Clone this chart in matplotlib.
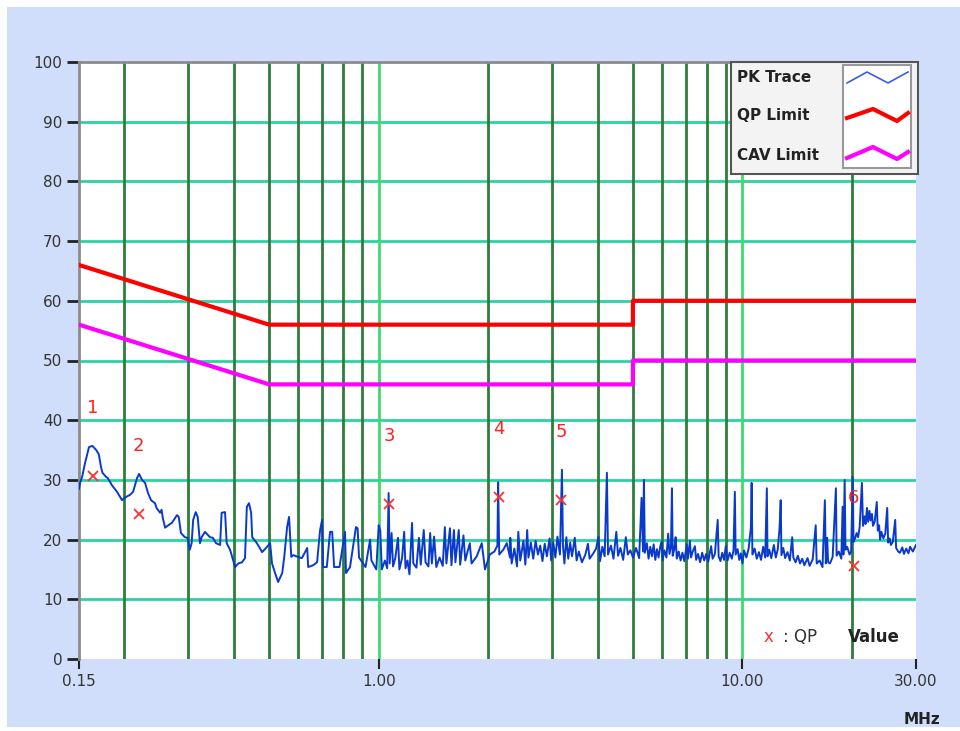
import matplotlib.pyplot as plt
from matplotlib.patches import Rectangle
from matplotlib.lines import Line2D

plt.rcParams['font.family'] = ['DejaVu Sans']

# limit lines (MHz, dBuV)
limit_freq = [0.15, 0.5, 5.0, 5.0, 30.0]
qp_limit = [66, 56, 56, 60, 60]
cav_limit = [56, 46, 46, 50, 50]

# peak trace, low / mid / high bands
pk_low = [
    (0.150, 28.5), (0.151, 29.5), (0.153, 30.5), (0.1558, 32.8), (0.1598, 35.5),
    (0.1632, 35.7), (0.1673, 35.0), (0.170, 34.3), (0.1724, 32.2), (0.174, 31.2),
    (0.178, 30.5), (0.180, 30.3), (0.1848, 29.1), (0.1908, 28.0), (0.1970, 26.6),
    (0.200, 27.0), (0.2072, 27.5), (0.2112, 28.0), (0.2166, 30.3), (0.2194, 31.0),
    (0.2236, 30.0), (0.2279, 29.5), (0.2322, 27.8), (0.2366, 26.6), (0.2427, 26.1),
    (0.245, 25.3), (0.2506, 24.5), (0.253, 25.0), (0.255, 23.6), (0.2587, 22.0),
    (0.264, 22.4), (0.270, 22.8), (0.2754, 23.6), (0.279, 24.1), (0.282, 23.8),
    (0.286, 21.1), (0.2931, 20.4), (0.298, 20.3), (0.3025, 18.3), (0.306, 19.4),
    (0.309, 23.3), (0.314, 24.6), (0.318, 23.8), (0.3226, 19.4), (0.326, 20.4),
    (0.333, 21.3), (0.3437, 20.4), (0.350, 20.3), (0.357, 19.4), (0.3664, 19.1),
    (0.370, 24.5), (0.3781, 24.6), (0.382, 19.4), (0.3903, 18.3), (0.403, 15.4),
    (0.411, 16.0), (0.421, 16.2), (0.429, 16.9), (0.434, 25.5), (0.440, 26.1),
    (0.446, 24.5), (0.449, 20.4), (0.460, 19.6), (0.469, 18.8), (0.478, 17.9),
    (0.490, 18.6), (0.503, 19.4), (0.509, 16.0), (0.519, 14.4), (0.529, 12.9),
    (0.543, 14.4), (0.550, 17.1), (0.560, 22.1), (0.567, 23.8), (0.575, 17.1),
    (0.582, 17.4), (0.600, 17.1), (0.615, 16.9), (0.636, 18.6), (0.640, 15.4),
    (0.660, 15.7), (0.677, 16.2), (0.690, 21.6), (0.699, 23.3), (0.703, 15.4),
    (0.720, 15.4), (0.735, 21.3), (0.745, 21.3), (0.754, 15.4), (0.780, 15.4),
    (0.808, 21.3), (0.813, 14.4), (0.834, 15.4), (0.866, 22.1), (0.875, 21.9),
    (0.883, 17.0), (0.920, 15.4), (0.947, 20.0), (0.955, 16.5), (0.985, 15.0),
]
pk_mid = [
    (1.00, 22.4), (1.01, 21.5), (1.02, 15.0), (1.04, 16.5), (1.055, 15.2),
    (1.065, 27.8), (1.072, 16.0), (1.085, 21.1), (1.095, 15.5), (1.11, 16.8),
    (1.13, 20.3), (1.14, 15.0), (1.16, 17.0), (1.175, 21.3), (1.185, 15.2),
    (1.20, 16.5), (1.215, 14.2), (1.235, 22.8), (1.245, 16.0), (1.27, 15.3),
    (1.29, 20.3), (1.305, 15.8), (1.33, 21.6), (1.345, 16.2), (1.37, 15.5),
    (1.385, 21.1), (1.40, 16.0), (1.42, 20.5), (1.44, 15.4), (1.47, 17.0),
    (1.50, 15.6), (1.52, 22.1), (1.535, 16.0), (1.57, 21.9), (1.585, 15.7),
    (1.61, 21.6), (1.625, 16.2), (1.66, 21.6), (1.675, 15.8), (1.71, 20.7),
    (1.73, 16.5), (1.78, 19.4), (1.80, 16.0), (1.86, 17.2), (1.92, 19.4),
    (1.96, 15.0), (2.02, 17.5), (2.08, 18.0), (2.12, 19.0), (2.13, 29.6),
    (2.145, 17.5), (2.20, 18.3), (2.25, 19.4), (2.296, 17.0), (2.30, 20.3),
    (2.32, 16.0), (2.36, 18.5), (2.40, 15.5), (2.42, 21.3), (2.45, 16.5),
    (2.50, 19.8), (2.53, 15.8), (2.56, 21.6), (2.58, 17.0), (2.62, 19.5),
    (2.66, 16.8), (2.70, 19.8), (2.74, 17.5), (2.78, 19.0), (2.82, 16.4),
    (2.86, 19.3), (2.90, 17.2), (2.95, 20.2), (2.98, 16.5), (3.02, 19.5),
    (3.06, 17.0), (3.10, 20.5), (3.15, 17.5), (3.19, 31.7), (3.21, 19.0),
    (3.24, 16.0), (3.28, 20.4), (3.32, 16.8), (3.36, 19.5), (3.40, 17.2),
    (3.46, 20.3), (3.50, 16.5), (3.55, 18.0), (3.62, 16.2), (3.70, 17.5),
    (3.76, 19.3), (3.80, 16.8), (3.90, 17.8), (3.96, 18.5), (4.02, 20.5),
    (4.06, 16.4), (4.12, 18.8), (4.18, 17.2), (4.24, 31.2), (4.27, 17.5),
    (4.35, 19.0), (4.42, 16.8), (4.50, 21.3), (4.55, 17.3), (4.62, 18.6),
    (4.70, 16.6), (4.78, 20.4), (4.84, 17.5), (4.92, 18.2), (5.00, 17.0),
]
pk_high = [
    (5.10, 18.6), (5.20, 16.9), (5.28, 27.0), (5.33, 18.0), (5.36, 30.0),
    (5.39, 17.8), (5.46, 19.4), (5.52, 16.8), (5.58, 18.8), (5.64, 17.2),
    (5.70, 19.2), (5.76, 16.6), (5.82, 18.4), (5.88, 17.0), (5.95, 19.0),
    (6.00, 19.6), (6.03, 16.5), (6.10, 18.2), (6.18, 17.0), (6.25, 21.0),
    (6.30, 17.6), (6.36, 18.8), (6.40, 28.6), (6.43, 17.3), (6.50, 18.5),
    (6.55, 20.4), (6.60, 16.8), (6.68, 18.0), (6.76, 16.5), (6.84, 17.8),
    (6.92, 16.4), (7.03, 19.2), (7.08, 16.8), (7.17, 19.8), (7.22, 17.0),
    (7.30, 18.0), (7.40, 18.9), (7.46, 16.6), (7.55, 17.6), (7.65, 16.2),
    (7.75, 17.8), (7.85, 16.5), (7.95, 17.6), (8.05, 16.3), (8.20, 18.9),
    (8.28, 16.8), (8.40, 17.6), (8.55, 23.3), (8.60, 17.2), (8.70, 16.4),
    (8.80, 17.8), (8.90, 16.6), (9.00, 18.9), (9.10, 16.5), (9.22, 17.8),
    (9.35, 16.8), (9.45, 18.2), (9.53, 28.0), (9.58, 17.5), (9.70, 18.4),
    (9.80, 16.6), (9.90, 17.7), (10.00, 16.0), (10.10, 18.2), (10.25, 17.0),
    (10.40, 18.5), (10.55, 22.1), (10.60, 29.5), (10.65, 17.5), (10.80, 18.5),
    (10.95, 16.8), (11.10, 17.9), (11.25, 16.6), (11.40, 18.8), (11.55, 17.0),
    (11.67, 28.6), (11.72, 17.2), (11.85, 18.3), (12.00, 16.9), (12.20, 19.1),
    (12.35, 17.0), (12.50, 18.3), (12.65, 22.0), (12.74, 26.6), (12.80, 17.4),
    (12.95, 18.6), (13.10, 16.9), (13.30, 17.9), (13.50, 16.5), (13.70, 20.4),
    (13.80, 17.0), (14.00, 16.2), (14.20, 17.3), (14.40, 16.0), (14.60, 16.8),
    (14.80, 15.7), (15.10, 16.9), (15.30, 15.6), (15.60, 16.7), (15.90, 22.4),
    (16.00, 16.0), (16.30, 16.5), (16.60, 15.4), (16.85, 26.6), (16.95, 16.0),
    (17.10, 20.3), (17.20, 16.2), (17.40, 16.0), (17.70, 17.1), (18.07, 28.6),
    (18.15, 17.3), (18.40, 18.0), (18.70, 16.8), (18.85, 25.5), (18.95, 17.5),
    (19.10, 30.0), (19.20, 18.3), (19.40, 18.8), (19.70, 17.5), (19.90, 18.0),
    (20.10, 30.5), (20.20, 19.6), (20.40, 20.2), (20.60, 21.1), (20.80, 20.4),
    (21.00, 22.1), (21.30, 29.5), (21.45, 22.3), (21.65, 23.9), (21.80, 22.6),
    (22.00, 25.3), (22.15, 23.0), (22.35, 24.8), (22.50, 23.2), (22.70, 24.3),
    (22.85, 22.3), (23.10, 23.0), (23.40, 26.3), (23.55, 21.5), (23.75, 22.4),
    (23.90, 20.0), (24.10, 21.3), (24.40, 20.2), (24.70, 21.0), (25.00, 25.3),
    (25.15, 19.5), (25.40, 20.2), (25.60, 19.1), (25.90, 19.6), (26.30, 23.3),
    (26.45, 18.6), (26.80, 18.0), (27.10, 17.8), (27.50, 18.7), (27.80, 17.6),
    (28.20, 18.5), (28.60, 17.7), (28.90, 18.8), (29.40, 18.0), (30.00, 19.1),
]

# QP results and marker numbers
qp_freq = [0.1636, 0.219, 1.067, 2.14, 3.17, 20.2]
qp_level = [30.6, 24.3, 26.0, 27.1, 26.6, 15.6]
qp_tag = ['1', '2', '3', '4', '5', '6']
tag_level = [42.0, 35.7, 37.4, 38.5, 38.0, 27.0]

y_ticks = [0, 10, 20, 30, 40, 50, 60, 70, 80, 90, 100]
x_ticks = [0.15, 1.0, 10.0, 30.0]
x_labels = ['0.15', '1.00', '10.00', '30.00']
dark_v = [0.2, 0.3, 0.4, 0.5, 0.6, 0.7, 0.8, 0.9, 2, 3, 4, 5, 6, 7, 8, 9, 20]
bright_v = [1.0, 10.0]

W, H = 960, 731
fig = plt.figure(figsize=(9.6, 7.31), dpi=100, facecolor='white')


def fx(px):
    return px / W


def fy(py):
    return 1 - py / H


fig.patches.append(Rectangle((fx(7), fy(727)), 1, fy(7) - fy(727), transform=fig.transFigure,
                             facecolor='#d0defb', edgecolor='none', zorder=-5))

ax = fig.add_axes([fx(79), fy(659), fx(916) - fx(79), fy(62) - fy(659)])
ax.set_facecolor('white')
ax.set_xscale('log')
ax.set_xlim(0.15, 30)
ax.set_ylim(0, 100)

for v in y_ticks[1:-1]:
    ax.axhline(v, color='#2bd3a2', lw=2, zorder=1)
for f in dark_v:
    ax.axvline(f, color='#2f7d3c', lw=2, zorder=1)
for f in bright_v:
    ax.axvline(f, color='#3ddc68', lw=2, zorder=1)

pk = pk_low + pk_mid + pk_high
ax.plot([p[0] for p in pk], [p[1] for p in pk], color='#0a3acb', lw=1.4, zorder=3)
ax.plot(limit_freq, qp_limit, color='#ff0000', lw=3, zorder=4)
ax.plot(limit_freq, cav_limit, color='#ff00ff', lw=3, zorder=4)
ax.plot(qp_freq, qp_level, ls='none', marker='x', color='#ff3030', ms=7, mew=1.3, zorder=5)
for f, lv, t in zip(qp_freq, tag_level, qp_tag):
    ax.text(f, lv, t, color='#ff2020', fontsize=13, ha='center', va='center', zorder=6)

ax.set_yticks(y_ticks)
ax.set_yticklabels([str(v) for v in y_ticks])
ax.set_xticks(x_ticks)
ax.set_xticklabels(x_labels)
ax.minorticks_off()
ax.tick_params(axis='y', length=9, width=2, color='#222222', labelsize=11,
               labelcolor='#333333', pad=3)
ax.tick_params(axis='x', length=7, width=1.5, color='#222222', labelsize=11,
               labelcolor='#333333', pad=4)
for s in ['right', 'bottom']:
    ax.spines[s].set_visible(False)
for s in ['left', 'top']:
    ax.spines[s].set_color('#8c8c8c')
    ax.spines[s].set_linewidth(2)

# legend box, drawn by hand like the instrument software
fig.patches.append(Rectangle((fx(731), fy(174)), fx(918) - fx(731), fy(62) - fy(174),
                             transform=fig.transFigure, facecolor='#f3f3f3',
                             edgecolor='#555555', lw=1.5, zorder=10))
fig.patches.append(Rectangle((fx(843), fy(168)), fx(911) - fx(843), fy(65) - fy(168),
                             transform=fig.transFigure, facecolor='white',
                             edgecolor='#999999', lw=1.5, zorder=11))
legend_names = ['PK Trace', 'QP Limit', 'CAV Limit']
legend_rows = [78, 116, 155]
samples = [
    ([847, 867, 888, 908], [83, 72, 83, 72], '#3a5ee0', 1.2),
    ([847, 873, 897, 908], [118, 109, 121, 113], '#ff0000', 3),
    ([847, 873, 897, 908], [158, 147, 159, 152], '#ff00ff', 3),
]
for name, row, (xs, ys, c, w) in zip(legend_names, legend_rows, samples):
    fig.text(fx(737), fy(row), name, fontsize=11, fontweight='bold', color='#222222',
             ha='left', va='center', zorder=12)
    fig.lines.append(Line2D([fx(x) for x in xs], [fy(y) for y in ys], transform=fig.transFigure,
                            color=c, lw=w, zorder=12))

fig.text(fx(764), fy(637), 'x', color='#ff3030', fontsize=12, ha='left', va='center')
fig.text(fx(783), fy(637), ': QP', color='#333333', fontsize=12, ha='left', va='center')
fig.text(fx(848), fy(637), 'Value', color='#222222', fontsize=12, fontweight='bold',
         ha='left', va='center')
fig.text(fx(922), fy(719), 'MHz', color='#222222', fontsize=11, fontweight='bold',
         ha='center', va='center')

fig.savefig('out.png', dpi=100, facecolor='white')
